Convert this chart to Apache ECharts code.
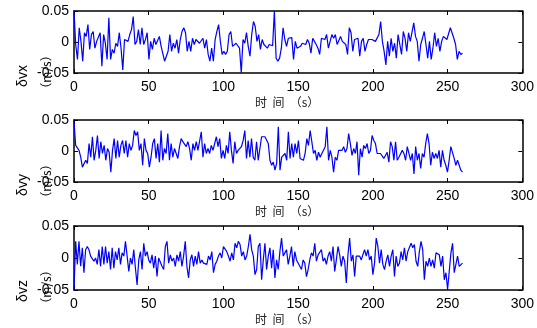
<!DOCTYPE html>
<html>
<head>
<meta charset="utf-8">
<script src="https://cdn.jsdelivr.net/npm/echarts@6.0.0/dist/echarts.min.js"></script>
<style>
html,body{margin:0;padding:0;background:#fff;}
#main{width:537px;height:328px;}
</style>
</head>
<body>
<div id="main"></div>
<script>
var tEnd = 260;
var xTicks = [0, 50, 100, 150, 200, 250, 300];
var yTicks = [-0.05, 0, 0.05];
var yNames = ['δvx', 'δvy', 'δvz'];
var unitName = '（m/s）';
var xName = '时  间  （s）';

var dvx = [0.050,-0.005,-0.028,0.023,0.001,-0.031,0.015,0.009,0.028,-0.012,0.012,0.017,-0.010,0.001,-0.002,0.015,-0.039,0.012,-0.002,-0.028,
0.039,-0.028,-0.012,-0.018,-0.002,-0.007,0.015,-0.010,-0.045,0.004,0.006,0.001,0.012,0.020,0.041,-0.004,0.001,0.020,-0.004,0.023,
-0.004,0.004,0.015,-0.028,0.001,-0.012,0.006,-0.004,-0.002,0.009,-0.007,-0.004,-0.031,-0.023,-0.015,0.012,-0.015,-0.002,-0.010,0.004,
-0.018,0.004,0.017,0.023,0.015,-0.015,0.001,-0.015,0.006,-0.004,0.004,0.001,-0.002,-0.004,0.006,-0.010,0.004,-0.020,-0.031,-0.010,
-0.031,0.004,0.017,0.028,0.001,-0.020,-0.015,-0.020,-0.015,0.012,0.017,-0.007,-0.010,-0.002,0.001,-0.010,-0.050,0.004,-0.002,0.015,
-0.007,-0.023,0.012,0.033,0.025,0.001,0.012,-0.012,0.004,-0.004,-0.002,-0.010,-0.004,-0.002,-0.006,0.050,-0.026,-0.031,-0.026,-0.010,0.023,
0.004,-0.007,0.006,0.009,0.007,
-0.028,0.001,-0.010,-0.012,-0.007,-0.002,0.001,-0.004,0.004,-0.002,-0.018,0.006,0.001,-0.004,-0.010,-0.020,0.006,0.009,0.004,0.012,
-0.010,-0.007,0.012,0.006,0.012,-0.004,-0.002,0.009,0.001,0.004,-0.004,-0.020,0.023,0.015,-0.015,0.004,0.001,0.006,-0.023,0.001,
0.006,-0.015,-0.004,0.004,0.001,0.004,0.006,0.001,0.004,0.012,0.033,0.001,-0.015,-0.037,0.001,-0.023,0.006,-0.015,-0.002,-0.026,
0.012,-0.004,-0.020,0.017,0.006,-0.015,0.015,0.001,0.004,0.031,0.009,0.001,-0.031,-0.004,0.006,0.017,-0.004,-0.026,0.001,-0.028,
-0.010,0.015,-0.007,0.006,-0.015,0.001,0.009,0.006,0.004,0.006,0.023,0.025,0.006,-0.004,-0.028,-0.015,-0.020,-0.018];

var dvy = [0.048,0.009,0.007,0.001,-0.010,-0.026,-0.028,-0.015,-0.020,0.012,-0.010,0.023,-0.015,0.001,0.025,-0.012,0.015,-0.004,0.009,-0.015,
0.004,-0.002,-0.034,0.001,0.020,-0.012,0.017,-0.010,0.009,0.017,-0.004,0.017,-0.010,0.012,0.001,0.009,0.033,0.025,0.031,0.001,
0.012,-0.023,0.020,0.001,-0.004,-0.026,-0.010,0.012,0.020,-0.012,0.012,-0.018,0.033,-0.015,0.004,-0.004,0.028,-0.015,0.012,-0.010,
0.004,0.001,-0.012,0.007,0.020,0.015,0.017,0.007,0.015,0.004,-0.015,0.012,0.001,0.015,0.001,0.004,0.031,-0.010,0.012,-0.004,
0.004,-0.004,0.009,0.001,-0.002,0.023,0.007,0.020,-0.012,0.001,-0.012,0.009,-0.004,0.031,0.001,-0.020,0.015,-0.004,0.001,0.004,
0.007,0.017,0.033,-0.012,0.017,-0.010,0.020,-0.010,-0.015,0.015,-0.015,0.004,0.023,0.025,0.023,0.025,0.012,-0.015,-0.023,-0.018,
-0.031,-0.020,0.039,-0.031,-0.010,-0.012,-0.004,-0.015,0.031,-0.012,0.012,-0.010,0.012,-0.004,0.017,
-0.012,-0.010,-0.015,-0.004,0.020,0.009,0.033,0.015,-0.004,0.001,-0.015,-0.002,-0.010,-0.004,-0.007,0.007,0.039,-0.015,0.001,-0.010,
-0.034,-0.010,-0.015,0.001,0.004,0.001,0.007,-0.002,0.004,0.028,0.012,-0.007,0.004,-0.004,0.015,-0.039,0.004,-0.010,0.009,0.004,
0.012,-0.004,0.001,0.025,0.017,0.012,-0.004,-0.007,-0.004,-0.007,-0.012,-0.015,-0.002,-0.018,0.015,0.007,-0.015,0.015,-0.015,-0.010,
-0.012,0.001,-0.004,-0.015,0.007,0.007,-0.015,-0.004,-0.037,0.007,-0.015,-0.004,-0.028,-0.004,-0.010,0.012,0.028,0.012,-0.023,-0.002,
-0.012,-0.004,-0.012,0.001,-0.026,0.001,-0.015,-0.023,-0.034,-0.015,0.007,0.009,-0.012,-0.023,-0.015,-0.015,-0.031,-0.034];

var dvz = [-0.049,0.026,-0.010,0.026,-0.013,0.016,-0.023,0.013,0.018,0.013,0.003,0.005,-0.005,0.000,-0.010,0.013,-0.013,0.018,-0.010,0.018,
-0.008,0.010,-0.018,0.016,-0.016,0.010,-0.003,0.016,-0.010,0.008,0.003,0.026,0.003,-0.021,0.000,-0.010,0.013,-0.016,-0.042,-0.003,
0.010,-0.018,0.023,0.003,0.010,-0.003,-0.008,0.005,-0.016,0.003,-0.029,0.000,0.003,-0.013,-0.018,0.018,0.026,-0.008,0.005,-0.005,
0.000,-0.013,0.005,-0.005,0.010,-0.013,0.003,0.026,-0.013,-0.031,-0.003,0.005,-0.013,0.003,-0.010,0.010,-0.008,-0.003,-0.008,-0.005,
-0.010,0.003,-0.003,0.010,-0.023,-0.010,-0.005,0.003,0.008,0.000,0.018,0.016,0.010,0.003,-0.005,0.008,-0.003,0.023,0.016,0.026,
0.021,0.003,0.010,-0.003,0.003,0.018,0.037,0.013,0.003,-0.026,-0.018,0.018,0.023,-0.034,-0.003,0.023,-0.018,0.003,0.016,-0.016,
0.013,-0.031,-0.003,-0.018,0.010,0.031,0.003,0.008,0.013,-0.010,0.003,0.018,-0.013,0.010,-0.003,0.000,-0.013,
-0.018,-0.003,-0.008,-0.029,-0.018,-0.003,0.008,0.003,0.023,-0.005,0.005,0.003,0.013,-0.005,0.000,-0.010,0.003,0.010,-0.005,0.018,
-0.021,-0.003,0.018,0.005,-0.013,0.003,-0.005,-0.039,0.005,0.031,-0.005,0.005,-0.029,0.003,0.000,0.003,-0.003,0.005,0.013,0.003,
0.013,-0.003,0.003,-0.026,-0.008,0.031,0.018,-0.008,0.013,-0.010,-0.018,-0.005,0.005,-0.013,0.003,0.013,-0.029,0.003,-0.013,-0.008,
0.010,-0.003,0.016,-0.005,0.010,0.013,0.023,0.016,0.021,-0.005,-0.013,0.010,0.026,0.013,-0.034,-0.005,-0.013,0.000,-0.013,-0.003,
-0.016,0.008,0.010,0.005,-0.013,0.003,-0.034,-0.023,-0.049,-0.049,0.008,0.023,-0.023,-0.010,0.003,-0.013,-0.010,-0.008];

var allSeries = [dvx, dvy, dvz];

var myChart = echarts.init(document.getElementById('main'), null, {renderer: 'canvas'});

var tops = [11, 120, 226];
var heights = [62, 62, 64];

var grid = [], xAxis = [], yAxis = [], series = [], graphic = [];
var lineCol = '#000';

for (var i = 0; i < 3; i++) {
    grid.push({left: 74, right: 11, top: tops[i], height: heights[i], show: false});
    // bottom x axis with labels, top one only ticks (box look)
    xAxis.push({
        gridIndex: i, type: 'value', position: 'bottom',
        min: xTicks[0], max: xTicks[xTicks.length - 1], interval: 50,
        axisLine: {show: true, onZero: false, lineStyle: {color: lineCol, width: 1.5}},
        axisTick: {show: true, inside: true, length: 4, lineStyle: {color: lineCol}},
        axisLabel: {show: true, color: '#000', fontSize: 14, fontFamily: 'Liberation Sans', margin: 7},
        splitLine: {show: false}
    });
    xAxis.push({
        gridIndex: i, type: 'value', position: 'top',
        min: xTicks[0], max: xTicks[xTicks.length - 1], interval: 50,
        axisLine: {show: true, onZero: false, lineStyle: {color: lineCol, width: 1.5}},
        axisTick: {show: true, inside: true, length: 4, lineStyle: {color: lineCol}},
        axisLabel: {show: false},
        splitLine: {show: false}
    });
    yAxis.push({
        gridIndex: i, type: 'value', position: 'left',
        min: yTicks[0], max: yTicks[2], interval: 0.05,
        axisLine: {show: true, onZero: false, lineStyle: {color: lineCol, width: 1.5}},
        axisTick: {show: true, inside: true, length: 4, lineStyle: {color: lineCol}},
        axisLabel: {show: true, color: '#000', fontSize: 14, fontFamily: 'Liberation Sans', margin: 5},
        splitLine: {show: false}
    });
    yAxis.push({
        gridIndex: i, type: 'value', position: 'right',
        min: yTicks[0], max: yTicks[2], interval: 0.05,
        axisLine: {show: true, onZero: false, lineStyle: {color: lineCol, width: 1.5}},
        axisTick: {show: true, inside: true, length: 4, lineStyle: {color: lineCol}},
        axisLabel: {show: false},
        splitLine: {show: false}
    });

    var vals = allSeries[i];
    var step = tEnd / (vals.length - 1);
    var pts = [];
    for (var k = 0; k < vals.length; k++) {
        pts.push([k * step, vals[k]]);
    }
    series.push({
        name: yNames[i], type: 'line',
        xAxisIndex: 2 * i, yAxisIndex: 2 * i,
        data: pts, showSymbol: false, symbol: 'none',
        lineStyle: {color: '#0000ff', width: 1.2},
        z: 1
    });

    var labY = [103, 212, 320][i];
    graphic.push({
        type: 'text', left: 255, top: labY - 7,
        style: {text: xName, fill: '#222', font: '12px "Noto Sans CJK SC"'}
    });
    var midY = [76, 185, 291][i];
    graphic.push({
        type: 'text', x: 23, y: midY, rotation: Math.PI / 2,
        style: {text: yNames[i], fill: '#000', font: '14px "Liberation Sans"', align: 'center', verticalAlign: 'middle'}
    });
    graphic.push({
        type: 'text', x: 46, y: midY - 4, rotation: Math.PI / 2,
        style: {text: unitName, fill: '#000', font: '12px "Noto Sans CJK SC"', align: 'center', verticalAlign: 'middle'}
    });
}

var option = {
    animation: false,
    backgroundColor: '#fff',
    grid: grid,
    xAxis: xAxis,
    yAxis: yAxis,
    series: series,
    graphic: graphic
};
myChart.setOption(option);
</script>
</body>
</html>
